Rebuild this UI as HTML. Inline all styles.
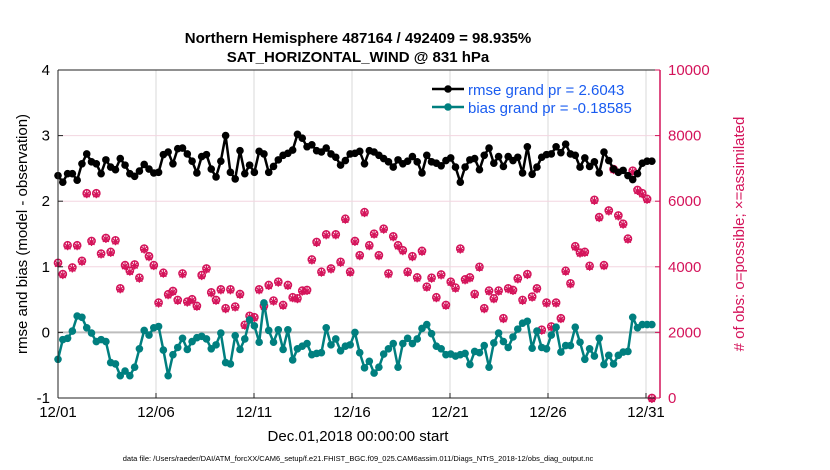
<!DOCTYPE html>
<html><head><meta charset="utf-8">
<style>
html,body{margin:0;padding:0;background:#fff;}
svg{display:block;font-family:"Liberation Sans",Arial,sans-serif;}
</style></head>
<body>
<svg id="chart" width="830" height="470" viewBox="0 0 830 470">
  <text x="358" y="43" text-anchor="middle" font-size="15" font-weight="bold">Northern Hemisphere 487164 / 492409 = 98.935%</text>
  <text x="358" y="62" text-anchor="middle" font-size="15" font-weight="bold">SAT_HORIZONTAL_WIND @ 831 hPa</text>
  <g id="grid"></g>
  <g id="series"></g>
  <g id="axes"></g>
  <text transform="translate(27,234) rotate(-90)" text-anchor="middle" font-size="15">rmse and bias (model - observation)</text>
  <text transform="translate(744,234) rotate(-90)" text-anchor="middle" font-size="15" fill="#d4135a"># of obs: o=possible; ×=assimilated</text>
  <text x="358" y="441" text-anchor="middle" font-size="15">Dec.01,2018 00:00:00 start</text>
  <text x="358" y="461" text-anchor="middle" font-size="7.5">data file: /Users/raeder/DAI/ATM_forcXX/CAM6_setup/f.e21.FHIST_BGC.f09_025.CAM6assim.011/Diags_NTrS_2018-12/obs_diag_output.nc</text>
  <g id="legend">
    <line x1="432" y1="89" x2="464" y2="89" stroke="#000" stroke-width="2.5"/>
    <circle cx="448" cy="89" r="3.8" fill="#000"/>
    <text x="468" y="95" font-size="15" fill="#1a5cf0">rmse grand pr = 2.6043</text>
    <line x1="432" y1="107" x2="464" y2="107" stroke="#007f7f" stroke-width="2.5"/>
    <circle cx="448" cy="107" r="3.8" fill="#007f7f"/>
    <text x="468" y="113" font-size="15" fill="#1a5cf0">bias grand pr = -0.18585</text>
  </g>
</svg>
<script>
const rmse=[2.39,2.29,2.42,2.42,2.32,2.57,2.72,2.6,2.57,2.42,2.63,2.52,2.48,2.65,2.55,2.42,2.38,2.46,2.56,2.49,2.43,2.44,2.71,2.75,2.57,2.8,2.81,2.72,2.61,2.43,2.68,2.71,2.49,2.37,2.61,3.0,2.44,2.34,2.77,2.42,2.55,2.44,
2.76,2.72,2.44,2.53,2.63,2.70,2.73,2.78,3.02,2.96,2.83,2.86,2.77,2.75,2.81,2.72,2.67,2.55,2.62,2.72,2.73,2.76,2.57,2.77,2.75,2.70,2.65,2.60,2.52,2.63,2.57,2.61,2.68,2.6,2.43,2.70,2.6,2.58,2.54,2.62,2.66,2.52,
2.29,2.52,2.63,2.65,2.48,2.70,2.81,2.58,2.68,2.53,2.68,2.62,2.67,2.43,2.83,2.41,2.52,2.67,2.71,2.72,2.83,2.74,2.87,2.72,2.70,2.52,2.66,2.53,2.6,2.43,2.75,2.62,2.49,2.44,2.47,2.39,2.33,2.42,2.58,2.61,2.61];
const bias=[-0.41,-0.11,-0.09,0.02,0.25,0.23,0.07,-0.01,-0.14,-0.11,-0.14,-0.46,-0.48,-0.66,-0.59,-0.66,-0.53,-0.25,0.03,-0.04,0.07,0.09,-0.27,-0.66,-0.34,-0.23,-0.09,-0.26,-0.14,-0.08,-0.06,-0.10,-0.25,-0.19,-0.01,-0.46,-0.48,-0.05,-0.26,-0.10,0.19,0.10,-0.15,
0.45,0.03,-0.15,0.04,-0.26,0.04,-0.42,-0.25,-0.21,-0.17,-0.34,-0.32,-0.31,0.07,-0.19,-0.10,-0.28,-0.21,-0.19,0,-0.31,-0.54,-0.44,-0.62,-0.53,-0.33,-0.25,-0.17,-0.53,-0.17,-0.09,-0.17,-0.10,0.06,0.12,-0.02,-0.21,-0.25,-0.34,-0.33,-0.36,
-0.34,-0.32,-0.49,-0.29,-0.31,-0.20,-0.53,-0.16,-0.01,-0.14,-0.23,-0.07,0.05,0.14,0.17,-0.24,0.02,-0.23,-0.25,-0.04,0.08,-0.30,-0.20,-0.20,0.08,-0.15,-0.41,-0.25,-0.36,-0.09,-0.49,-0.35,-0.48,-0.35,-0.30,-0.29,0.23,0.07,0.12,0.12,0.12];
const nPossible=[4121,3778,4656,3980,4656,4182,6242,4788,6242,4404,4879,4454,4808,3343,4050,3879,4070,3667,4555,4323,4050,2909,3818,3162,3262,2990,3798,2939,3010,2808,3747,3949,3222,2990,3313,2737,3313,2788,3172,2232,2505,2464,3313,
2808,3444,2970,3545,2838,3444,3071,3040,3273,3293,4222,4757,3848,4990,3949,4990,4151,5464,3848,4788,4353,5666,4656,5010,4353,5161,3798,4929,4656,4505,3848,4323,3677,4485,3394,3667,3071,3767,2838,3545,3364,
4555,3616,3677,3172,4000,2737,3273,3040,3273,2434,3343,3293,3646,2990,3778,3091,3343,2081,2909,2182,2909,2434,3879,3495,4626,4434,4454,4030,6040,5515,4050,5717,6979,5565,5313,4858,6929,6343,6242,6070,0];
const nAssim=nPossible.map(v=>v);
const xTickLabels=["12/01","12/06","12/11","12/16","12/21","12/26","12/31"];
const xTickDays=[0,5,10,15,20,25,30];
const yLeftTicks=[-1,0,1,2,3,4];
const yRightTicks=[0,2000,4000,6000,8000,10000];

const NS="http://www.w3.org/2000/svg";
const X0=58,X1=660,Y0=70,Y1=398;
const xScale=d=>X0+d*19.6;
const yL=v=>Y1-(v+1)/5*(Y1-Y0);
const yR=v=>Y1-v/10000*(Y1-Y0);
const tOf=i=>i*30.3/(rmse.length-1);
function mk(tag,attrs,parent){const e=document.createElementNS(NS,tag);for(const k in attrs)e.setAttribute(k,attrs[k]);parent.appendChild(e);return e;}
const grid=document.getElementById('grid'),ser=document.getElementById('series'),ax=document.getElementById('axes');

xTickDays.forEach((d,i)=>{if(d>0){const l=mk('line',{x1:xScale(d),x2:xScale(d),y1:Y0,y2:Y1,stroke:'#d8d8d8','stroke-width':1},grid);

}});
yRightTicks.forEach(v=>{if(v>0&&v<10000){const l=mk('line',{x1:X0,x2:X1,y1:yR(v),y2:yR(v),stroke:'#f3d6e0','stroke-width':1},grid);

}});
const z=mk('line',{x1:X0,x2:X1,y1:yL(0),y2:yL(0),stroke:'#bdbdbd','stroke-width':2},grid);



// obs counts
nPossible.forEach((v,i)=>{const c=mk('circle',{cx:xScale(tOf(i)),cy:yR(v),r:3.6,fill:'none',stroke:'#d4135a','stroke-width':1.5},ser);

});
nAssim.forEach((v,i)=>{const x=xScale(tOf(i)),y=yR(v)+1,r=4;
const d='M'+(x-r)+','+y+'L'+(x+r)+','+y+'M'+x+','+(y-r)+'L'+x+','+(y+r)+'M'+(x-3)+','+(y-3)+'L'+(x+3)+','+(y+3)+'M'+(x-3)+','+(y+3)+'L'+(x+3)+','+(y-3);
const p=mk('path',{d:d,stroke:'#d4135a','stroke-width':1.2,fill:'none'},ser);

});

function line(arr,color,name){
  const d=arr.map((v,i)=>(i?'L':'M')+xScale(tOf(i)).toFixed(1)+','+yL(v).toFixed(1)).join('');
  const p=mk('path',{d:d,fill:'none',stroke:color,'stroke-width':2.5,'stroke-linejoin':'round'},ser);
  
  
  arr.forEach((v,i)=>{const c=mk('circle',{cx:xScale(tOf(i)),cy:yL(v),r:3.8,fill:color},ser);
  
  });
}
line(bias,'#007f7f','bias');
line(rmse,'#000','rmse');

// axes
mk('line',{x1:X0,x2:X1,y1:Y0,y2:Y0,stroke:'#222','stroke-width':1},ax);
mk('line',{x1:X0,x2:X1,y1:Y1,y2:Y1,stroke:'#222','stroke-width':1},ax);
mk('line',{x1:X0,x2:X0,y1:Y0,y2:Y1,stroke:'#222','stroke-width':1},ax);
mk('line',{x1:X1,x2:X1,y1:Y0,y2:Y1,stroke:'#d4135a','stroke-width':1.5},ax);
xTickDays.forEach((d,i)=>{mk('line',{x1:xScale(d),x2:xScale(d),y1:Y1,y2:Y1-5,stroke:'#222'},ax);
const t=mk('text',{x:xScale(d),y:Y1+19,'text-anchor':'middle','font-size':15},ax);t.textContent=xTickLabels[i];

});
yLeftTicks.forEach(v=>{mk('line',{x1:X0,x2:X0+5,y1:yL(v),y2:yL(v),stroke:'#222'},ax);
const t=mk('text',{x:X0-8,y:yL(v)+5,'text-anchor':'end','font-size':15},ax);t.textContent=v;

});
yRightTicks.forEach(v=>{mk('line',{x1:X1,x2:X1-5,y1:yR(v),y2:yR(v),stroke:'#d4135a'},ax);
const t=mk('text',{x:X1+8,y:yR(v)+5,'font-size':15,fill:'#d4135a'},ax);t.textContent=v;

});
</script>
</body></html>
